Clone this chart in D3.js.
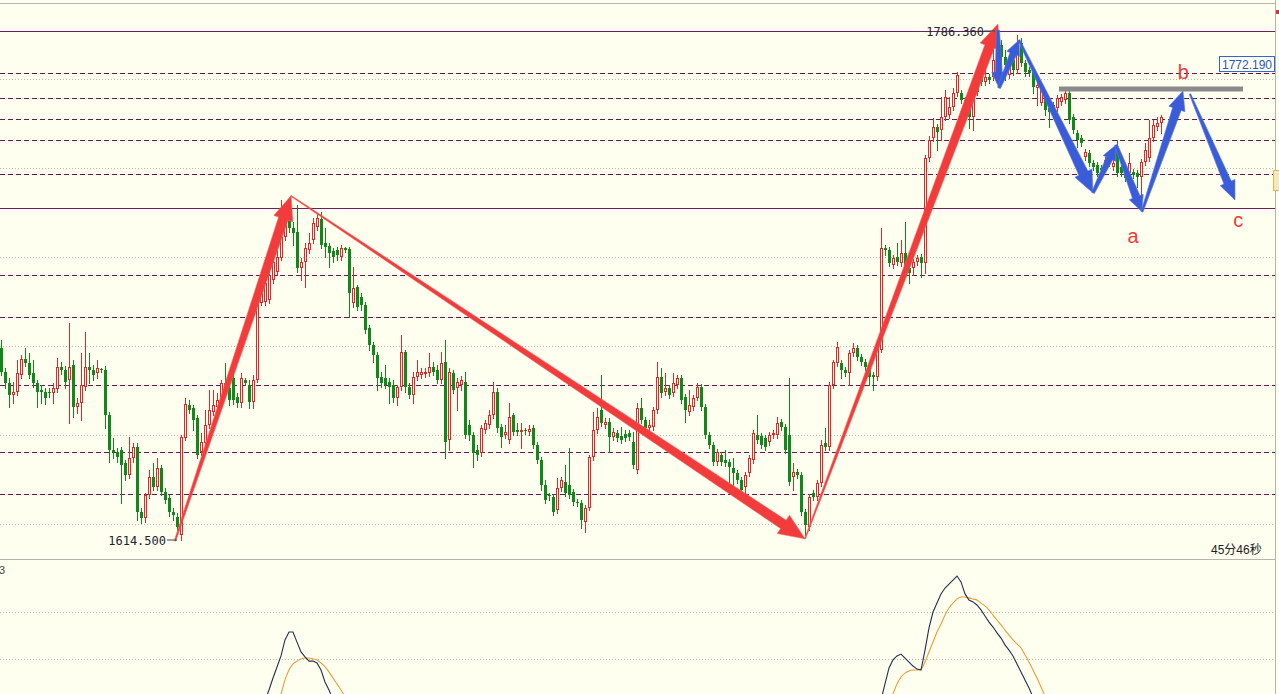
<!DOCTYPE html>
<html><head><meta charset="utf-8">
<script src="https://cdn.jsdelivr.net/npm/d3@7"></script>
<style>
html,body{margin:0;padding:0;background:#fffff0;overflow:hidden}
svg{display:block}
</style></head><body>
<svg id="c" width="1279" height="694"></svg>
<script>
// ---------- DATA ----------
const opens=[1679.3,1671.2,1667.5,1663.4,1664.5,1670.2,1675.6,1674.3,1670.9,1667.5,
1665.1,1664.5,1664.5,1664.1,1665.5,1672.9,1671.9,1668.5,1673.6,1659.4,
1660.8,1666.2,1672.9,1671.9,1670.9,1672.2,1671.9,1656.7,1644.9,1644.2,
1644.9,1640.5,1636.4,1642.2,1645.9,1623.9,1621.9,1629.7,1635.8,1632.4,
1638.8,1630.7,1628.7,1623.9,1622.3,1616.2,1648.9,1660.1,1659.1,1655.7,
1644.2,1647.3,1653.3,1657.7,1659.4,1661.8,1667.5,1665.8,1669.2,1662.8,
1660.8,1668.5,1666.8,1661.1,1668.5,1694.5,1694.8,1695.5,1702.3,1705.0,
1709.7,1716.8,1724.2,1719.8,1718.5,1706.3,1708.3,1712.4,1715.8,1720.2,
1722.9,1714.8,1713.8,1712.1,1712.4,1710.0,1713.1,1712.7,1694.5,1699.9,
1696.5,1693.8,1686.1,1680.3,1677.0,1669.5,1669.2,1667.8,1666.8,1662.4,
1666.2,1678.0,1666.2,1663.4,1669.5,1670.2,1670.5,1670.9,1672.9,1671.9,
1668.5,1674.6,1648.3,1670.9,1665.8,1666.8,1667.8,1653.3,1649.9,1644.9,
1643.9,1651.6,1653.3,1656.7,1664.5,1652.6,1649.9,1648.3,1656.7,1651.6,
1651.0,1651.6,1651.0,1652.3,1646.6,1641.5,1633.1,1629.7,1629.0,1624.6,
1632.1,1634.1,1633.1,1630.7,1627.3,1627.0,1620.6,1625.3,1642.5,1651.6,
1658.4,1653.3,1654.3,1649.3,1650.6,1649.6,1650.3,1650.6,1647.6,1638.1,
1659.1,1655.0,1652.3,1652.6,1658.4,1669.5,1664.5,1665.8,1664.1,1666.8,
1669.2,1662.8,1657.7,1659.4,1662.4,1666.2,1659.4,1649.9,1646.6,1640.8,
1643.2,1641.5,1640.8,1638.8,1637.1,1634.8,1632.4,1637.1,1641.5,1649.9,
1649.6,1648.9,1647.6,1649.9,1649.9,1654.3,1652.6,1649.9,1635.8,1637.5,
1636.4,1623.9,1618.9,1630.4,1629.0,1633.7,1647.3,1645.9,1666.8,1674.3,
1674.3,1671.9,1670.9,1677.6,1679.3,1676.3,1674.6,1672.9,1670.2,1669.5,
1678.6,1713.1,1712.4,1707.3,1710.0,1708.0,1711.4,1706.3,1706.3,1708.3,
1710.0,1708.0,1743.5,1750.2,1753.9,1752.9,1757.3,1758.0,1760.7,1765.4,
1765.4,1763.0,1760.7,1757.3,1765.7,1771.5,1769.1,1770.8,1770.8,1775.9,
1781.6,1777.6,1771.5,1776.5,1773.2,1782.3,1775.5,1773.2,1772.5,1767.1,
1762.0,1765.4,1760.3,1761.4,1760.3,1762.4,1763.0,1765.4,1757.3,1751.9,
1750.2,1743.8,1745.2,1741.8,1741.1,1740.1,1740.4,1741.8,1740.4,1746.2,
1740.4,1738.7,1738.4,1738.7,1738.4,1737.1,1742.1,1743.5,1750.2,1753.9,1755.3];
const closes=[1671.2,1667.5,1663.4,1664.5,1670.9,1675.6,1674.3,1670.2,1667.5,1664.5,
1664.5,1662.4,1664.1,1665.8,1672.9,1671.9,1667.8,1672.9,1659.4,1660.8,
1666.8,1672.9,1671.9,1670.2,1672.6,1671.9,1656.7,1644.9,1644.2,1642.5,
1639.8,1636.4,1642.2,1645.9,1623.9,1621.9,1629.7,1635.8,1632.4,1638.8,
1630.7,1628.0,1623.9,1622.9,1618.9,1649.3,1660.4,1658.4,1655.0,1643.2,
1647.6,1653.3,1658.4,1660.1,1661.8,1667.5,1665.8,1661.8,1661.8,1660.8,
1669.2,1667.5,1661.1,1668.5,1694.5,1698.2,1701.3,1704.0,1708.3,1710.0,
1716.8,1721.5,1719.8,1718.1,1706.3,1708.3,1713.1,1714.8,1721.5,1723.2,
1714.1,1713.4,1711.4,1710.0,1710.7,1713.1,1712.4,1697.9,1699.6,1693.2,
1693.8,1685.4,1680.3,1677.0,1669.2,1667.5,1666.8,1666.2,1662.4,1666.2,
1678.0,1666.2,1663.4,1669.5,1671.2,1671.2,1671.2,1672.9,1671.2,1668.5,
1674.3,1647.6,1671.2,1665.1,1667.8,1668.5,1649.9,1649.9,1643.9,1643.2,
1652.3,1654.0,1656.7,1664.5,1652.3,1649.3,1651.0,1656.0,1651.0,1651.0,
1651.6,1651.3,1652.0,1646.6,1641.5,1633.1,1628.0,1629.4,1623.9,1632.1,
1634.8,1630.4,1629.7,1627.3,1627.0,1621.3,1625.3,1642.5,1651.6,1656.0,
1654.0,1654.3,1649.3,1651.0,1648.9,1648.3,1648.9,1649.3,1639.8,1659.1,
1655.0,1652.3,1653.3,1658.4,1669.5,1664.1,1665.8,1663.4,1667.5,1669.2,
1661.8,1658.4,1660.1,1662.4,1666.2,1659.4,1649.9,1646.6,1640.8,1644.2,
1640.8,1640.5,1639.1,1637.1,1634.8,1631.4,1636.4,1642.2,1650.6,1648.3,
1646.6,1645.9,1649.9,1650.6,1654.0,1652.6,1644.9,1634.1,1637.5,1636.4,
1623.9,1619.6,1629.0,1629.0,1633.7,1646.6,1645.9,1666.8,1674.6,1679.7,
1671.9,1670.9,1677.6,1679.3,1676.3,1674.6,1672.9,1669.5,1669.5,1679.3,
1713.1,1712.4,1708.0,1709.7,1708.3,1711.4,1706.3,1704.6,1708.3,1709.7,
1708.0,1743.5,1749.5,1753.9,1752.2,1757.3,1764.1,1760.7,1765.4,1771.5,
1763.0,1760.7,1757.3,1764.7,1768.8,1769.1,1770.8,1769.8,1776.5,1783.3,
1777.6,1774.9,1775.9,1773.2,1779.2,1775.5,1772.5,1772.2,1767.4,1768.1,
1767.4,1759.7,1759.0,1758.6,1763.7,1764.1,1765.4,1756.3,1752.9,1749.5,
1748.5,1745.5,1741.8,1740.4,1738.4,1739.4,1742.8,1745.2,1741.8,1738.4,
1738.4,1736.7,1741.8,1737.7,1737.1,1742.1,1746.2,1750.2,1754.6,1755.3,1757.3];
const highs=[1682.0,1672.6,1669.2,1667.8,1675.3,1677.0,1679.3,1677.6,1675.3,1668.5,
1666.8,1665.8,1665.8,1667.5,1675.9,1674.6,1673.2,1687.8,1675.3,1662.4,
1677.6,1684.7,1677.6,1673.6,1675.3,1672.6,1673.2,1657.7,1648.9,1645.6,
1645.9,1641.5,1649.3,1647.3,1647.3,1625.3,1630.4,1638.1,1640.5,1642.2,
1639.8,1632.1,1629.7,1625.3,1623.6,1649.9,1662.4,1661.8,1660.1,1656.7,
1650.6,1658.4,1665.1,1665.1,1664.1,1668.5,1674.3,1666.8,1671.2,1664.1,
1670.9,1669.2,1668.5,1670.2,1696.2,1702.3,1703.0,1705.7,1710.7,1712.4,
1729.3,1723.2,1726.6,1721.9,1727.6,1709.7,1714.8,1718.1,1723.2,1724.9,
1725.2,1719.8,1714.8,1713.1,1713.4,1714.1,1713.4,1713.4,1706.7,1700.6,
1697.9,1694.8,1687.1,1681.3,1678.0,1671.2,1673.6,1669.2,1668.5,1666.8,
1683.7,1678.6,1667.5,1671.2,1675.3,1672.6,1672.6,1677.6,1674.6,1673.6,
1678.0,1682.0,1672.6,1671.9,1669.2,1669.9,1671.2,1655.0,1651.0,1646.6,
1653.3,1655.0,1658.4,1667.8,1665.8,1653.7,1653.3,1660.8,1657.4,1654.0,
1654.0,1652.3,1653.3,1653.3,1647.6,1642.5,1634.8,1630.4,1630.0,1635.4,
1635.8,1639.8,1645.6,1631.7,1628.3,1628.0,1626.3,1643.2,1657.7,1659.1,
1670.2,1655.7,1655.7,1652.3,1651.6,1652.6,1651.6,1651.6,1651.0,1660.8,
1662.4,1656.0,1655.0,1659.4,1674.6,1672.6,1670.9,1666.8,1670.9,1670.2,
1670.2,1663.8,1665.1,1663.4,1667.5,1667.2,1660.4,1651.0,1647.6,1645.2,
1644.2,1644.9,1641.8,1642.2,1638.1,1635.8,1637.5,1643.2,1651.6,1656.7,
1650.6,1649.9,1651.0,1651.6,1656.0,1655.3,1653.7,1669.2,1640.5,1638.5,
1637.5,1625.0,1630.0,1631.4,1634.8,1648.3,1652.3,1667.8,1675.3,1681.3,
1675.3,1672.9,1678.6,1681.0,1680.3,1677.3,1675.6,1673.9,1671.2,1680.3,
1719.8,1714.1,1713.4,1710.7,1714.8,1715.8,1721.9,1707.3,1709.4,1710.7,
1711.1,1744.5,1750.9,1757.0,1754.9,1764.1,1766.4,1764.1,1767.1,1772.5,
1766.4,1764.1,1761.7,1765.7,1770.5,1772.5,1774.2,1771.8,1780.9,1786.36,
1783.3,1779.9,1778.2,1777.6,1785.0,1784.0,1776.5,1774.2,1773.5,1769.1,
1768.4,1766.4,1761.4,1762.4,1764.7,1765.1,1766.4,1766.4,1758.3,1752.9,
1751.2,1746.5,1746.2,1742.8,1742.1,1741.1,1743.8,1746.2,1742.8,1749.5,
1741.4,1739.7,1745.2,1739.7,1739.4,1743.1,1748.5,1756.3,1756.3,1757.3,1758.0];
const lows=[1670.2,1665.8,1659.4,1660.8,1663.4,1669.2,1673.2,1669.2,1666.2,1659.4,
1660.8,1660.4,1662.8,1660.8,1664.5,1670.5,1665.8,1654.0,1656.0,1657.4,
1655.0,1665.1,1667.5,1668.5,1669.2,1671.2,1652.3,1640.8,1642.2,1640.8,
1627.0,1634.8,1635.4,1640.8,1621.3,1620.2,1620.6,1628.7,1631.4,1631.4,
1629.7,1627.0,1622.6,1621.3,1617.9,1614.5,1648.3,1657.4,1651.6,1642.2,
1643.2,1645.9,1652.3,1656.7,1658.4,1660.8,1664.5,1660.1,1660.4,1659.4,
1659.4,1666.8,1659.1,1659.1,1667.8,1693.8,1693.8,1694.5,1701.3,1704.0,
1709.0,1715.8,1718.5,1714.1,1705.0,1702.3,1699.9,1711.4,1714.8,1719.2,
1713.1,1710.0,1706.7,1708.3,1709.0,1709.0,1711.7,1689.8,1693.2,1692.1,
1692.1,1684.4,1678.6,1674.6,1665.1,1666.2,1665.8,1660.8,1661.1,1660.1,
1665.1,1664.5,1662.4,1660.8,1668.5,1669.2,1669.5,1669.9,1670.2,1667.5,
1667.5,1642.2,1644.9,1664.1,1658.4,1665.1,1648.9,1648.3,1639.1,1641.5,
1642.9,1650.6,1652.3,1655.7,1651.0,1645.9,1648.9,1647.3,1649.9,1649.9,
1645.6,1650.3,1649.9,1645.6,1640.5,1631.4,1627.0,1628.0,1622.9,1623.6,
1631.0,1629.4,1628.7,1626.3,1626.0,1618.6,1617.2,1624.6,1641.5,1650.6,
1653.0,1652.3,1644.2,1648.3,1647.9,1647.3,1647.9,1648.3,1638.8,1637.1,
1654.0,1651.3,1651.3,1651.6,1657.4,1662.8,1663.4,1662.4,1663.1,1665.8,
1660.8,1654.3,1656.7,1658.4,1661.8,1658.4,1648.9,1645.6,1639.8,1639.8,
1639.8,1639.5,1634.1,1633.1,1633.7,1630.4,1630.4,1636.1,1640.5,1647.3,
1645.6,1644.9,1646.6,1648.9,1648.9,1651.6,1643.9,1633.1,1631.4,1635.4,
1622.9,1616.2,1617.9,1628.0,1628.0,1632.7,1644.9,1644.9,1665.8,1673.2,
1669.2,1669.9,1666.8,1676.6,1675.3,1673.6,1671.9,1666.8,1665.1,1668.5,
1678.0,1710.7,1707.0,1706.3,1707.3,1707.0,1705.3,1701.3,1704.0,1707.3,
1703.3,1704.6,1742.4,1749.2,1746.2,1749.5,1756.3,1757.0,1759.7,1764.4,
1762.0,1759.7,1753.6,1752.9,1764.7,1768.1,1768.1,1768.8,1769.8,1774.9,
1771.5,1769.8,1770.5,1771.5,1772.2,1774.5,1771.1,1771.1,1765.4,1761.4,
1761.4,1758.0,1753.9,1757.6,1759.3,1761.4,1762.0,1755.3,1751.9,1747.2,
1747.5,1742.8,1740.8,1739.4,1737.4,1738.4,1739.4,1740.8,1739.4,1737.4,
1737.4,1735.7,1737.4,1736.7,1733.7,1729.3,1741.1,1742.4,1749.2,1752.9,1751.9];

const gridLevels=[1620,1650,1680,1710,1740,1770];
const solidLevels=[1786.36,1726.6];
const dashedLevels=[1772.19,1763.7,1756.7,1749.5,1738.1,1704.0,1689.8,1666.9,1644.2,1630.1];

// oscillator (two visible segments; values outside the panel are clipped)
const oscFastA={start:66,values:[42.6,46.8,51.9,56.6,61.3,68.1,71.5,71.5,67.2,63.0,60.9,59.1,59.1,58.3,55.3,50.2,46.8,42.6]};
const oscSlowA={start:69,values:[40.4,45.1,51.1,55.3,57.9,59.1,60.0,60.4,60.4,60.0,59.6,58.3,56.6,54.5,51.9,49.4,46.8,44.3,41.7]};
const oscFastB={start:220,values:[42.6,49.4,56.2,59.6,61.3,62.1,60.4,58.7,57.0,55.7,55.3,63.8,73.2,80.0,83.8,87.7,90.2,91.9,93.6,95.3,92.8,87.7,85.1,84.3,83.0,80.9,78.3,75.7,73.6,71.1,68.9,66.0,63.8,61.3,57.9,54.5,51.1,47.7,43.8,40.4]};
const oscSlowB={start:222,values:[40.4,45.1,49.4,52.3,54.0,54.9,55.3,55.3,55.7,58.7,63.0,67.2,71.5,74.9,78.7,81.7,83.8,85.5,86.4,86.4,86.0,85.5,85.1,83.8,82.6,80.9,78.7,76.6,74.5,72.3,70.2,68.1,66.4,64.7,61.7,58.7,55.3,51.9,48.1,44.3,40.9]};
const oscGrid=[80,60];

// annotations: [index, price]
const redArrows=[
  {from:[43.5,1614.2],to:[72.5,1730.7],w0:1.5,w1:10,hw:20,hl:24},
  {from:[72.5,1730.7],to:[201,1614.9],w0:1,w1:10,hw:22,hl:26},
  {from:[201,1614.9],to:[249.25,1788.7],w0:1,w1:10,hw:20,hl:24}
];
const blueArrows=[
  {from:[249.25,1786.7],to:[249.5,1767.1],w0:3,w1:7,hw:14,hl:16},
  {from:[249.5,1767.1],to:[254.5,1783.3],w0:3,w1:7,hw:14,hl:15},
  {from:[254.5,1783.3],to:[273,1731.7],w0:2,w1:10,hw:19,hl:22},
  {from:[273,1731.7],to:[278.75,1747.9],w0:3,w1:7,hw:14,hl:15},
  {from:[278.75,1747.9],to:[285.25,1725.3],w0:3,w1:8,hw:15,hl:16},
  {from:[285.25,1725.3],to:[295.5,1766.1],w0:2,w1:9,hw:17,hl:19},
  {from:[297.25,1765.1],to:[308.5,1729.3],w0:1.5,w1:8,hw:16,hl:19}
];
const bLevel={from:264.5,to:310.5,price:1766.8};
const waveLabels=[{t:"a",i:283,p:1714.8},{t:"b",i:295.6,p:1770.2},{t:"c",i:309.3,p:1720.2}];
const hiLabel={text:"1786.360",i:249,p:1786.36};
const loLabel={text:"1614.500",i:45,p:1614.5};
const lastLabel={text:"1772.190",p:1772.19};
const timerText="45分46秒";
const oscTitle="3";

// ---------- CHART ----------
const BG="#fffff0";
const svg=d3.select("#c");
const x=d3.scaleLinear().domain([0,290]).range([1,1161]);
const y=d3.scaleLinear().domain([1614.5,1786.36]).range([540,31]);
const yo=d3.scaleLinear().domain([0,100]).range([800,565]);

svg.append("rect").attr("width",1279).attr("height",694).attr("fill",BG);
const defs=svg.append("defs");
defs.append("clipPath").attr("id","mainClip").append("rect").attr("x",0).attr("y",4).attr("width",1275).attr("height",555);
defs.append("clipPath").attr("id","oscClip").append("rect").attr("x",0).attr("y",560).attr("width",1275).attr("height",134);

const main=svg.append("g").attr("clip-path","url(#mainClip)").attr("shape-rendering","crispEdges");
const crisp=v=>Math.round(v)+0.5;

// grid
main.selectAll(".grid").data(gridLevels).join("line")
  .attr("x1",0).attr("x2",1275).attr("y1",d=>crisp(y(d))).attr("y2",d=>crisp(y(d)))
  .attr("stroke","#b9b9b0").attr("stroke-dasharray","1,2");
main.selectAll(".solid").data(solidLevels).join("line")
  .attr("x1",0).attr("x2",1275).attr("y1",d=>crisp(y(d))).attr("y2",d=>crisp(y(d)))
  .attr("stroke","#6a1f5e").attr("stroke-width",1);
main.selectAll(".dash").data(dashedLevels).join("line")
  .attr("x1",0).attr("x2",1275).attr("y1",d=>crisp(y(d))).attr("y2",d=>crisp(y(d)))
  .attr("stroke","#5e1b52").attr("stroke-dasharray","5,3");

// candles
const candles=opens.map((o,i)=>({i,o,c:closes[i],h:highs[i],l:lows[i]}));
const RED="#e3262a", GREEN="#12881c";
const cg=main.append("g");
candles.forEach(d=>{
  const cx=Math.round(x(d.i));
  const up=d.c>=d.o;
  const top=Math.round(y(Math.max(d.o,d.c))), bot=Math.round(y(Math.min(d.o,d.c)));
  const hy=Math.round(y(Math.max(d.h,d.o,d.c))), ly=Math.round(y(Math.min(d.l,d.o,d.c)));
  const col=up?RED:GREEN;
  if(up){
    if(hy<top) cg.append("line").attr("x1",cx+0.5).attr("x2",cx+0.5).attr("y1",hy).attr("y2",top).attr("stroke",col);
    if(ly>bot) cg.append("line").attr("x1",cx+0.5).attr("x2",cx+0.5).attr("y1",bot).attr("y2",ly+1).attr("stroke",col);
    if(bot-top>=2){
      cg.append("rect").attr("x",cx-0.5).attr("y",top+0.5).attr("width",2).attr("height",bot-top-1)
        .attr("fill",BG).attr("stroke",col);
    } else {
      cg.append("rect").attr("x",cx-1).attr("y",top).attr("width",3).attr("height",Math.max(1,bot-top)).attr("fill",col);
    }
  } else {
    cg.append("line").attr("x1",cx+0.5).attr("x2",cx+0.5).attr("y1",hy).attr("y2",ly+1).attr("stroke",col);
    cg.append("rect").attr("x",cx-1).attr("y",top).attr("width",3).attr("height",Math.max(1,bot-top)).attr("fill",col);
  }
});

// arrows
function arrowPts(a){
  const p0=[x(a.from[0]),y(a.from[1])], p1=[x(a.to[0]),y(a.to[1])];
  const dx=p1[0]-p0[0], dy=p1[1]-p0[1], L=Math.hypot(dx,dy), ux=dx/L, uy=dy/L, nx=-uy, ny=ux;
  const bx=p1[0]-ux*a.hl, by=p1[1]-uy*a.hl;
  return [[p0[0]+nx*a.w0/2,p0[1]+ny*a.w0/2],[bx+nx*a.w1/2,by+ny*a.w1/2],[bx+nx*a.hw/2,by+ny*a.hw/2],
          p1,[bx-nx*a.hw/2,by-ny*a.hw/2],[bx-nx*a.w1/2,by-ny*a.w1/2],[p0[0]-nx*a.w0/2,p0[1]-ny*a.w0/2]];
}
const ann=svg.append("g");
ann.selectAll(".ra").data(redArrows).join("polygon")
  .attr("points",d=>arrowPts(d).map(p=>p.join(",")).join(" "))
  .attr("fill","#f23c3c").attr("stroke","#f56060").attr("stroke-width",0.6).attr("stroke-linejoin","round");
ann.selectAll(".ba").data(blueArrows).join("polygon")
  .attr("points",d=>arrowPts(d).map(p=>p.join(",")).join(" "))
  .attr("fill","#3b5cd9").attr("stroke","#5b78e0").attr("stroke-width",0.6).attr("stroke-linejoin","round");

// b-level gray bar
ann.append("line").attr("x1",x(bLevel.from)).attr("x2",x(bLevel.to))
  .attr("y1",y(bLevel.price)).attr("y2",y(bLevel.price))
  .attr("stroke","#8a8a8a").attr("stroke-width",5);

// wave letters
ann.selectAll(".wl").data(waveLabels).join("text")
  .attr("x",d=>x(d.i)).attr("y",d=>y(d.p)).attr("text-anchor","middle")
  .attr("font-family","Liberation Sans, Arial, sans-serif").attr("font-size",20)
  .attr("fill","#ee3b3b").text(d=>d.t);

// price labels
const mono="DejaVu Sans Mono, monospace";
const hx=x(hiLabel.i), hyv=y(hiLabel.p);
ann.append("text").attr("x",hx-13).attr("y",hyv+4.5).attr("text-anchor","end")
  .attr("font-family",mono).attr("font-size",12).attr("fill","#1c2433").text(hiLabel.text);
ann.append("line").attr("x1",hx-13).attr("x2",hx-2).attr("y1",hyv).attr("y2",hyv).attr("stroke","#444");
const lx=x(loLabel.i), lyv=y(loLabel.p);
ann.append("text").attr("x",lx-15).attr("y",lyv+4.5).attr("text-anchor","end")
  .attr("font-family",mono).attr("font-size",12).attr("fill","#1c2433").text(loLabel.text);
ann.append("line").attr("x1",lx-14).attr("x2",lx-4).attr("y1",lyv).attr("y2",lyv).attr("stroke","#444");

// last price box
const ly2=Math.round(y(lastLabel.p));
ann.append("rect").attr("x",1219.5).attr("y",ly2-16.5).attr("width",55).attr("height",15)
  .attr("fill",BG).attr("stroke","#3565cf");
ann.append("text").attr("x",1247).attr("y",ly2-4.5).attr("text-anchor","middle")
  .attr("font-family","Liberation Sans, Arial, sans-serif").attr("font-size",12)
  .attr("fill","#2a55c0").text(lastLabel.text);

// frame
const fr=svg.append("g").attr("shape-rendering","crispEdges");
fr.append("line").attr("x1",0).attr("x2",1275).attr("y1",3.5).attr("y2",3.5).attr("stroke","#b4b4b0");
fr.append("line").attr("x1",0).attr("x2",1275).attr("y1",559.5).attr("y2",559.5).attr("stroke","#b4b4b0");
fr.append("line").attr("x1",1275.5).attr("x2",1275.5).attr("y1",0).attr("y2",694).attr("stroke","#b4b4b0");
fr.append("rect").attr("x",1276).attr("y",10).attr("width",3).attr("height",4).attr("fill","#e03030");
fr.append("rect").attr("x",1273.5).attr("y",170.5).attr("width",6).attr("height",20).attr("fill","#f6e8b8").attr("stroke","#d9b86a");

// timer
svg.append("text").attr("x",1211).attr("y",554)
  .attr("font-family","Liberation Sans, 'Noto Sans CJK SC', sans-serif").attr("font-size",12)
  .attr("fill","#222").text(timerText);

// oscillator panel
const osc=svg.append("g").attr("clip-path","url(#oscClip)");
osc.selectAll(".og").data(oscGrid).join("line")
  .attr("x1",0).attr("x2",1275).attr("y1",d=>crisp(yo(d))).attr("y2",d=>crisp(yo(d)))
  .attr("stroke","#b9b9b0").attr("stroke-dasharray","1,2").attr("shape-rendering","crispEdges");
const seg=s=>s.values.map((v,k)=>[x(s.start+k),yo(v)]);
const lineLin=d3.line();
const lineSm=d3.line().curve(d3.curveMonotoneX);
[oscSlowA,oscSlowB].forEach(s=>osc.append("path").attr("d",lineSm(seg(s))).attr("fill","none").attr("stroke","#ee9a36").attr("stroke-width",1.1));
[oscFastA,oscFastB].forEach(s=>osc.append("path").attr("d",lineLin(seg(s))).attr("fill","none").attr("stroke","#1f2f4f").attr("stroke-width",1.1));
svg.append("text").attr("x",-1).attr("y",574).attr("font-family","Liberation Sans, Arial, sans-serif")
  .attr("font-size",11).attr("fill","#444").text(oscTitle);
</script>
</body></html>
